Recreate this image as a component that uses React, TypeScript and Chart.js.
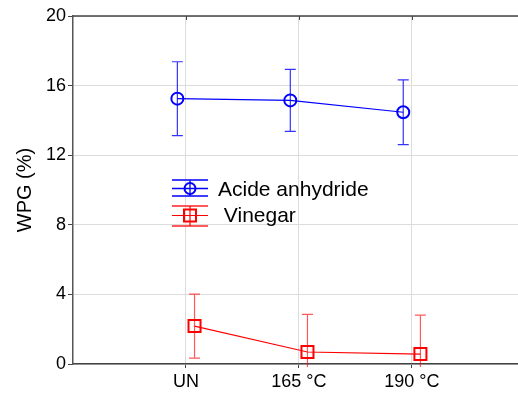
import React, { useEffect, useRef } from "react";
import { Chart, registerables } from "chart.js";

Chart.register(...registerables);

const categories = ["UN", "165 °C", "190 °C"];
const acideMean = [15.25, 15.15, 14.47];
const acideErr = [2.12, 1.78, 1.86];
const vinegarMean = [2.18, 0.69, 0.57];
const vinegarErr = [1.84, 2.16, 2.24];
const yTicks = [0, 4, 8, 12, 16, 20];
const seriesNames = ["Acide anhydride", " Vinegar"];
const yTitle = "WPG (%)";

const FONT = "'Liberation Sans', Arial, sans-serif";
const BLUE = "#0000ff";
const RED = "#ff0000";
const BLUE_ERR = "rgba(0,0,255,0.8)";
const RED_ERR = "rgba(255,0,0,0.65)";
const SHIFT = 0.076;

const errorBarPlugin = {
  id: "errorBars",
  beforeDatasetsDraw(chart: any) {
    const { ctx, chartArea } = chart;
    const xs = chart.scales.x;
    const ys = chart.scales.y;
    ctx.save();
    ctx.beginPath();
    ctx.rect(chartArea.left, chartArea.top, chartArea.right - chartArea.left, chartArea.bottom - chartArea.top + 3);
    ctx.clip();
    const series = [
      { mean: acideMean, err: acideErr, shift: -SHIFT, color: BLUE_ERR },
      { mean: vinegarMean, err: vinegarErr, shift: SHIFT, color: RED_ERR },
    ];
    series.forEach((s) => {
      ctx.strokeStyle = s.color;
      ctx.lineWidth = 1.2;
      s.mean.forEach((m, i) => {
        const x = xs.getPixelForValue(i + 1 + s.shift);
        const yt = ys.getPixelForValue(m + s.err[i]);
        const yb = ys.getPixelForValue(m - s.err[i]);
        ctx.beginPath();
        ctx.moveTo(x, yt);
        ctx.lineTo(x, yb);
        ctx.moveTo(x - 5.5, yt);
        ctx.lineTo(x + 5.5, yt);
        ctx.moveTo(x - 5.5, yb);
        ctx.lineTo(x + 5.5, yb);
        ctx.stroke();
      });
    });
    ctx.restore();
  },
  afterDraw(chart: any) {
    const { ctx, chartArea } = chart;
    const xs = chart.scales.x;
    ctx.save();
    // top border
    ctx.strokeStyle = "#444";
    ctx.lineWidth = 1.5;
    ctx.beginPath();
    ctx.moveTo(chartArea.left, chartArea.top);
    ctx.lineTo(chartArea.right, chartArea.top);
    ctx.stroke();
    ctx.lineWidth = 1;
    [1, 2, 3].forEach((v) => {
      const x = Math.round(xs.getPixelForValue(v)) + 0.5;
      ctx.beginPath();
      ctx.moveTo(x, chartArea.top);
      ctx.lineTo(x, chartArea.top + 4);
      ctx.stroke();
    });

    // legend
    const lx1 = 172;
    const lx2 = 208;
    const cx = 190;
    ctx.lineWidth = 1.3;
    ctx.strokeStyle = BLUE;
    ctx.beginPath();
    [180, 188.5, 196].forEach((y) => {
      ctx.moveTo(lx1, y);
      ctx.lineTo(lx2, y);
    });
    ctx.moveTo(cx, 180);
    ctx.lineTo(cx, 196);
    ctx.stroke();
    ctx.lineWidth = 2;
    ctx.beginPath();
    ctx.arc(cx, 188.5, 5.5, 0, Math.PI * 2);
    ctx.stroke();

    ctx.strokeStyle = RED_ERR;
    ctx.lineWidth = 2;
    ctx.beginPath();
    [206, 226].forEach((y) => {
      ctx.moveTo(lx1, y);
      ctx.lineTo(lx2, y);
    });
    ctx.stroke();
    ctx.strokeStyle = RED;
    ctx.lineWidth = 1.2;
    ctx.beginPath();
    ctx.moveTo(lx1, 215.5);
    ctx.lineTo(lx2, 215.5);
    ctx.moveTo(cx, 206);
    ctx.lineTo(cx, 226);
    ctx.stroke();
    ctx.lineWidth = 2;
    ctx.strokeRect(cx - 6, 209.5, 12, 12);

    ctx.fillStyle = "#000";
    ctx.font = `21px ${FONT}`;
    ctx.textBaseline = "middle";
    ctx.textAlign = "left";
    ctx.fillText(seriesNames[0], 218, 190);
    ctx.fillText(seriesNames[1], 218, 216);
    ctx.restore();
  },
};

export default function App() {
  const canvasRef = useRef<HTMLCanvasElement | null>(null);

  useEffect(() => {
    if (!canvasRef.current) return;
    const chart = new Chart(canvasRef.current, {
      type: "line",
      data: {
        datasets: [
          {
            label: seriesNames[0],
            data: acideMean.map((v, i) => ({ x: i + 1 - SHIFT, y: v })),
            borderColor: BLUE,
            borderWidth: 1.2,
            pointStyle: "circle",
            pointRadius: 6,
            pointBorderWidth: 2,
            pointBorderColor: BLUE,
            pointBackgroundColor: "rgba(255,255,255,0)",
            tension: 0,
          },
          {
            label: seriesNames[1],
            data: vinegarMean.map((v, i) => ({ x: i + 1 + SHIFT, y: v })),
            borderColor: RED,
            borderWidth: 1.2,
            pointStyle: "rect",
            pointRadius: 8.5,
            pointBorderWidth: 2,
            pointBorderColor: RED,
            pointBackgroundColor: "rgba(255,255,255,0)",
            tension: 0,
          },
        ],
      },
      options: {
        animation: false,
        responsive: false,
        maintainAspectRatio: false,
        layout: { autoPadding: false, padding: { top: 16, right: 0, left: 0, bottom: 0 } },
        plugins: {
          legend: { display: false },
          tooltip: { enabled: false },
        },
        scales: {
          x: {
            type: "linear",
            min: 0,
            max: 3.94,
            afterBuildTicks: (scale: any) => {
              scale.ticks = [1, 2, 3].map((v) => ({ value: v }));
            },
            afterFit: (scale: any) => {
              scale.height = 29;
              scale.paddingLeft = 0;
              scale.paddingRight = 0;
            },
            ticks: {
              color: "#000",
              font: { family: FONT, size: 18 },
              padding: 3,
              maxRotation: 0,
              callback: (v: any) => categories[Number(v) - 1] ?? "",
            },
            grid: {
              color: "#dcdcdc",
              tickColor: "#444",
              tickLength: 4,
            },
            border: { color: "#444", width: 1.5 },
          },
          y: {
            min: 0,
            max: 20,
            afterBuildTicks: (scale: any) => {
              scale.ticks = yTicks.map((v) => ({ value: v }));
            },
            afterFit: (scale: any) => {
              scale.width = 73;
              scale.paddingTop = 0;
              scale.paddingBottom = 0;
            },
            ticks: {
              color: "#000",
              font: { family: FONT, size: 18 },
              padding: 2,
            },
            grid: {
              color: "#dcdcdc",
              tickColor: "#444",
              tickLength: 5,
            },
            border: { color: "#555", width: 1.5 },
            title: {
              display: true,
              text: yTitle,
              color: "#000",
              font: { family: FONT, size: 20 },
              padding: { top: 13, bottom: 0 },
            },
          },
        },
      },
      plugins: [errorBarPlugin],
    } as any);
    return () => chart.destroy();
  }, []);

  return (
    <div style={{ position: "absolute", left: 0, top: 0, width: 518, height: 393, background: "#fff" }}>
      <canvas ref={canvasRef} width={518} height={393} style={{ display: "block" }} />
    </div>
  );
}
